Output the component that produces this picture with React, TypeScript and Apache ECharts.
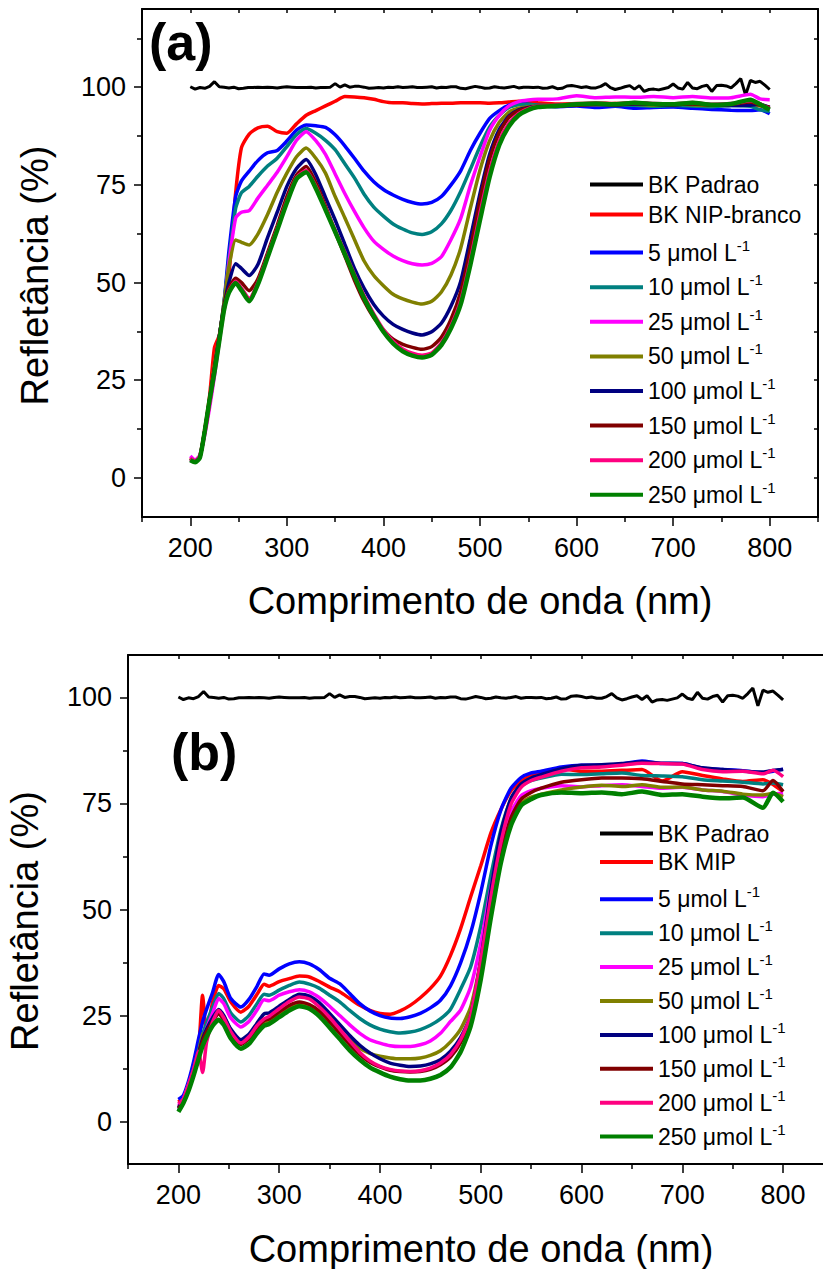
import React, { useEffect, useRef } from "react";
import * as echarts from "echarts";

const FONT = "Liberation Sans, Arial, Helvetica, sans-serif";

// Series colours (Origin palette)
const COLORS = ["#000000", "#FF0000", "#0000FF", "#008080", "#FF00FF", "#808000", "#000080", "#800000", "#FF0080", "#008000"];

// Legend / series names
const NAMES_A = ["BK Padrao", "BK NIP-branco", "5 μmol L-1", "10 μmol L-1", "25 μmol L-1", "50 μmol L-1", "100 μmol L-1", "150 μmol L-1", "200 μmol L-1", "250 μmol L-1"];
const NAMES_B = ["BK Padrao", "BK MIP", "5 μmol L-1", "10 μmol L-1", "25 μmol L-1", "50 μmol L-1", "100 μmol L-1", "150 μmol L-1", "200 μmol L-1", "250 μmol L-1"];

// Axis ticks
const X_LABELS = [200, 300, 400, 500, 600, 700, 800];
const X_MINOR = [150, 250, 350, 450, 550, 650, 750, 850];
const X_ALL = [150, 200, 250, 300, 350, 400, 450, 500, 550, 600, 650, 700, 750, 800, 850];
const Y_LABELS = [0, 25, 50, 75, 100];
const Y_MINOR_A = [12.5, 37.5, 62.5, 87.5, 112.5];
const Y_MINOR_B = [12.5, 37.5, 62.5, 87.5];
const Y_ALL_A = [0, 12.5, 25, 37.5, 50, 62.5, 75, 87.5, 100, 112.5];
const Y_ALL_B = [0, 12.5, 25, 37.5, 50, 62.5, 75, 87.5, 100];

// Reference white standard (same measurement in both panels), 5 nm steps
const WL_PADRAO = [
  200, 205, 210, 215, 220, 225, 230, 235, 240, 245,
  250, 255, 260, 265, 270, 275, 280, 285, 290, 295,
  300, 305, 310, 315, 320, 325, 330, 335, 340, 345,
  350, 355, 360, 365, 370, 375, 380, 385, 390, 395,
  400, 405, 410, 415, 420, 425, 430, 435, 440, 445,
  450, 455, 460, 465, 470, 475, 480, 485, 490, 495,
  500, 505, 510, 515, 520, 525, 530, 535, 540, 545,
  550, 555, 560, 565, 570, 575, 580, 585, 590, 595,
  600, 605, 610, 615, 620, 625, 630, 635, 640, 645,
  650, 655, 660, 665, 670, 675, 680, 685, 690, 695,
  700, 705, 710, 715, 720, 725, 730, 735, 740, 745,
  750, 755, 760, 765, 770, 775, 780, 785, 790, 795,
  800,
];
const PADRAO = [
  100.1, 99.5, 99.9, 99.7, 100.2, 101.4, 100.1, 100.0, 99.8, 100.0,
  99.6, 99.7, 99.9, 99.9, 100.0, 99.9, 100.0, 99.9, 99.8, 100.0,
  100.1, 100.0, 99.9, 99.9, 99.9, 100.0, 99.8, 99.9, 99.9, 100.0,
  100.9, 100.0, 100.6, 100.0, 100.2, 100.2, 100.0, 99.7, 99.8, 99.9,
  99.8, 100.0, 99.9, 100.1, 99.9, 100.0, 100.1, 99.9, 99.9, 100.0,
  100.1, 99.8, 100.0, 99.9, 100.1, 100.1, 99.7, 99.6, 99.9, 100.2,
  100.0, 99.7, 99.8, 100.1, 99.9, 99.8, 100.0, 100.2, 99.8, 100.0,
  100.0, 99.9, 100.0, 99.7, 99.8, 100.1, 99.6, 99.7, 100.3, 100.4,
  100.2, 99.9, 100.1, 99.8, 99.8, 100.2, 100.9, 99.9, 99.4, 99.7,
  100.1, 100.4, 99.5, 100.4, 98.9, 99.4, 99.5, 99.3, 99.6, 99.9,
  100.8, 99.8, 99.5, 101.2, 99.8, 99.6, 100.2, 100.5, 98.9, 100.4,
  100.5, 100.3, 99.8, 100.9, 102.2, 98.0, 101.7, 101.2, 101.5, 100.5,
  99.4,
];

// ---- Panel (a): NIP ----
const WL_A = [
  200, 205, 210, 215, 220, 225, 230, 235, 240,
  247, 253, 261,
  270, 280, 290, 300, 310, 320, 330, 340, 350, 360, 370, 380, 390, 400, 410, 420, 430, 440,
  450, 460, 470, 480, 490, 500, 510, 520, 530, 540, 550, 560,
  580, 600, 620, 640, 660, 680, 700, 720, 740, 760, 780,
  790, 800,
];
const NIP_BRANCO = [
  5.2, 4.4, 5.8, 12.5, 21, 33.3, 36.5, 44, 52,
  73, 84.5, 88.0,
  89.6, 90.0, 88.6, 88.2, 90.6, 92.8, 94.0, 95.2, 96.4, 97.6, 97.5, 97.3, 96.9, 96.3, 96.0, 96.0, 95.8, 95.7,
  95.8, 95.9, 95.9, 96.0, 96.0, 96.0, 95.9, 96.0, 96.2, 96.4, 96.2, 96.0,
  95.7, 95.8, 95.9, 95.8, 96.0, 95.7, 95.4, 95.6, 95.2, 95.4, 95.8,
  95.3, 94.8,
];
const A_5 = [
  5.0, 4.3, 5.6, 12, 20, 28, 36, 45, 58,
  72, 76, 78.5,
  81.2, 83.2, 83.8, 86.2, 89.0, 90.3, 90.1, 89.7, 87.8, 85.0, 81.8, 78.5, 75.8, 73.8, 72.4, 71.3, 70.5, 70.1,
  70.5, 72.0, 75.0, 78.6, 83.8, 88.2, 92.0, 94.0, 95.4, 95.8, 95.6, 95.3,
  95.0, 95.2, 94.8, 95.1, 94.6, 94.8, 94.9, 94.6, 94.3, 94.1, 94.0,
  94.2, 93.2,
];
const A_10 = [
  5.0, 4.3, 5.6, 12, 20, 28, 36, 45, 56,
  69, 73, 74.6,
  77.2, 79.8, 81.8, 84.8, 87.8, 89.4, 88.2, 86.4, 84.0, 80.4, 76.8, 72.6, 69.3, 67.0, 65.0, 63.7, 62.7, 62.3,
  63.0, 65.0, 68.5, 73.3, 79.0, 84.8, 89.8, 92.8, 94.8, 95.5, 95.6, 95.4,
  95.3, 95.4, 95.6, 95.3, 95.4, 95.1, 95.3, 95.2, 95.0, 95.3, 95.1,
  94.2, 93.8,
];
const A_25 = [
  5.6, 4.6, 5.8, 11, 18, 26, 35, 44, 55,
  66.5, 68.0, 68.4,
  71.6, 74.9, 78.2, 82.2, 86.4, 88.6, 86.3, 82.8, 77.8, 72.8, 68.2, 64.0, 60.6, 58.5, 56.8, 55.6, 54.8, 54.5,
  54.9, 56.6, 61.0, 66.4, 74.8, 82.2, 89.0, 92.8, 95.2, 96.3, 96.7, 96.9,
  97.0, 97.8, 97.3, 97.5, 97.4, 97.6, 97.3, 97.6, 97.2, 97.3, 98.2,
  97.0, 96.8,
];
const A_50 = [
  5.0, 4.3, 5.6, 12, 20, 29, 36, 45, 54,
  60.9, 60.3, 59.6,
  62.4, 67.4, 73.1, 78.0, 82.2, 84.4, 81.8, 78.0, 72.0, 66.6, 61.0, 55.5, 51.8, 49.2, 47.0, 45.8, 45.0, 44.5,
  45.2, 47.6, 52.0, 58.8, 69.0, 78.8, 86.3, 91.0, 93.6, 94.6, 95.0, 95.2,
  95.3, 95.6, 95.5, 95.8, 95.6, 95.4, 95.7, 95.5, 95.3, 95.6, 95.8,
  95.2, 94.6,
];
const A_100 = [
  4.6, 4.1, 5.4, 12, 20, 28, 36, 44, 50,
  54.8, 53.6, 51.8,
  54.6, 61.5, 68.0, 74.6, 79.2, 81.5, 77.6, 71.8, 66.0, 59.8, 53.6, 48.5, 44.4, 41.4, 39.3, 38.0, 37.1, 36.6,
  37.4, 39.6, 44.0, 50.3, 61.3, 72.8, 82.8, 89.2, 92.6, 94.2, 94.8, 95.1,
  95.3, 95.5, 95.7, 95.4, 95.7, 95.6, 95.4, 95.8, 95.5, 95.3, 95.4,
  95.6, 94.8,
];
const A_150 = [
  4.7, 4.1, 5.3, 12, 20, 28, 36, 44, 48.5,
  51.1, 50.0, 47.9,
  50.9, 57.6, 64.6, 72.0, 77.5, 79.7, 75.6, 69.6, 63.0, 56.8, 50.6, 45.2, 41.0, 37.9, 35.5, 34.2, 33.4, 32.9,
  33.6, 36.0, 40.6, 47.6, 58.6, 71.1, 81.6, 88.4, 92.3, 94.0, 94.7, 95.0,
  95.2, 95.4, 95.6, 95.5, 95.8, 95.6, 95.5, 95.7, 95.4, 95.6, 96.2,
  95.4, 94.8,
];
const A_200 = [
  5.0, 4.4, 5.5, 11.5, 19, 27, 35, 43, 47.8,
  50.3, 48.6, 45.9,
  50.0, 56.9, 63.9, 70.9, 76.9, 78.7, 74.6, 69.0, 63.4, 57.8, 52.1, 46.6, 42.0, 38.0, 35.0, 33.0, 31.9, 31.4,
  32.0, 34.6, 39.0, 45.4, 55.8, 67.8, 78.6, 86.3, 90.8, 93.3, 94.5, 95.1,
  95.3, 95.7, 95.9, 95.7, 96.1, 95.8, 95.7, 96.1, 95.6, 95.8, 96.5,
  95.7, 94.5,
];
const A_250 = [
  4.5, 4.0, 5.2, 12, 20, 27, 35, 43, 47.4,
  49.9, 48.0, 45.2,
  49.5, 56.4, 63.4, 70.4, 76.5, 78.2, 74.1, 68.6, 63.0, 57.3, 51.6, 46.0, 41.4, 37.4, 34.4, 32.4, 31.3, 30.8,
  31.5, 34.0, 38.3, 44.4, 54.5, 66.0, 77.0, 85.2, 90.0, 92.8, 94.2, 94.9,
  95.2, 95.6, 95.8, 95.6, 96.0, 95.7, 95.6, 96.0, 95.5, 95.7, 96.8,
  95.6, 94.2,
];

// ---- Panel (b): MIP ----
const WL_B = [
  200, 205, 210, 215, 220, 224, 228, 234, 240, 245, 252, 262, 270, 278, 285,
  290, 300, 310, 320, 330, 340, 350, 360, 370, 380, 390, 400, 410, 420, 430, 440,
  450, 460, 470, 480, 490, 500, 510, 520, 530, 540, 550, 560,
  580, 600, 620, 640, 660, 680, 700, 720, 740, 760, 780,
  790, 800,
];
const MIP = [
  4.6, 5.8, 8.8, 12.5, 17.0, 29.8, 20.5, 28.2, 32.1, 31.3, 28.2, 25.8, 27.2, 30.0, 32.4,
  31.9, 33.0, 33.7, 34.3, 34.1, 33.0, 31.7, 30.6, 29.0, 27.4, 26.2, 25.5, 25.3, 26.1, 27.4, 29.2,
  31.4, 34.3, 39.2, 45.5, 53.0, 60.3, 68.0, 73.6, 78.0, 80.2, 81.6, 82.2,
  83.2, 82.6, 82.6, 82.8, 83.0, 80.3, 82.5, 81.6, 80.8, 80.2, 80.6,
  79.5, 77.8,
];
const B_5 = [
  5.2, 6.2, 9.5, 14, 19.5, 23.5, 26.5, 30.5, 34.7, 33.0, 29.0, 27.0, 28.8, 31.9, 34.8,
  34.5, 36.0, 37.2, 37.7, 37.2, 35.8, 33.8, 32.5, 30.2, 27.8, 26.1, 25.0, 24.4, 24.3, 24.7, 25.5,
  26.8, 28.6, 32.0, 37.4, 44.5, 54.0, 65.0, 73.5, 78.6, 81.1, 82.2, 82.6,
  83.6, 84.0, 84.0, 84.3, 85.0, 84.4, 84.4, 83.3, 83.0, 82.7, 82.2,
  82.6, 83.1,
];
const B_10 = [
  2.6, 5.0, 8.6, 12.3, 16.8, 20.5, 23.3, 27.0, 30.2, 29.0, 25.6, 23.5, 25.0, 27.8, 30.0,
  29.8, 31.0, 32.1, 32.9, 32.4, 31.4, 29.8, 28.2, 26.2, 24.3, 22.8, 21.8, 21.2, 20.9, 21.1, 21.7,
  22.7, 24.2, 26.5, 31.2, 36.5, 46.0, 58.0, 68.8, 76.0, 79.1, 80.4, 81.0,
  81.9, 81.8, 82.0, 82.2, 81.6, 81.5, 81.3, 80.6, 80.3, 80.0, 79.6,
  79.8, 79.4,
];
const B_25 = [
  3.8, 5.4, 8.6, 12.0, 16.2, 19.5, 22.0, 25.6, 29.0, 27.8, 24.4, 22.3, 23.6, 26.3, 28.7,
  28.5, 29.8, 30.6, 31.1, 30.6, 29.2, 27.2, 25.0, 22.8, 20.8, 19.3, 18.5, 17.9, 17.7, 17.7, 18.1,
  19.0, 20.8, 23.6, 26.3, 31.8, 42.0, 55.0, 66.0, 73.0, 76.8, 78.0, 78.6,
  79.2, 78.9, 79.2, 79.4, 79.0, 78.6, 78.8, 78.2, 77.8, 77.0, 76.6,
  77.2, 77.4,
];
const B_50 = [
  3.4, 4.8, 8.0, 11.5, 16.0, 20.5, 21.0, 23.8, 25.8, 24.8, 21.6, 18.4, 19.6, 22.0, 23.2,
  23.4, 25.0, 26.6, 27.8, 27.4, 26.0, 24.0, 21.6, 19.2, 17.3, 16.1, 15.4, 15.0, 14.8, 14.8, 15.0,
  15.6, 16.7, 18.8, 21.8, 27.0, 37.8, 51.0, 62.8, 71.0, 75.0, 76.5, 77.2,
  78.2, 78.9, 79.3, 79.0, 79.4, 78.8, 78.9, 78.2, 77.9, 77.2, 77.0,
  77.4, 76.6,
];
const B_100 = [
  3.3, 5.0, 8.2, 11.8, 16.0, 19.5, 21.8, 24.5, 26.4, 25.0, 21.8, 19.3, 20.6, 23.2, 25.4,
  25.6, 27.2, 28.8, 30.0, 29.6, 28.0, 25.5, 22.9, 20.3, 18.0, 16.2, 14.8, 13.8, 13.3, 13.0, 13.1,
  13.6, 14.6, 16.6, 19.8, 25.0, 38.0, 54.5, 68.2, 76.2, 79.6, 81.0, 81.8,
  83.2, 84.0, 84.1, 84.4, 84.8, 84.5, 84.4, 83.4, 83.0, 82.6, 82.4,
  82.8, 83.0,
];
const B_150 = [
  3.0, 4.8, 8.0, 11.5, 15.8, 19.0, 21.2, 23.6, 25.4, 24.0, 20.6, 18.2, 19.5, 22.0, 23.8,
  24.2, 25.8, 27.4, 28.2, 27.6, 26.0, 23.5, 20.8, 18.1, 15.8, 14.0, 12.9, 12.1, 11.8, 11.7, 11.8,
  12.3, 13.4, 15.2, 18.6, 24.3, 35.5, 49.6, 62.8, 71.6, 76.0, 77.6, 78.6,
  80.0, 80.6, 81.0, 81.0, 80.8, 80.2, 79.6, 79.4, 79.2, 79.0, 78.0,
  80.4, 77.8,
];
const B_200 = [
  4.2, 5.4, 8.8, 12.3, 16.5, 11.6, 18.8, 23.5, 26.2, 24.5, 21.2, 18.5, 20.0, 22.6, 24.2,
  24.8, 26.6, 28.3, 29.4, 28.9, 27.0, 24.6, 21.8, 19.0, 16.3, 14.3, 13.0, 12.3, 11.9, 11.8, 12.0,
  12.6, 13.8, 15.8, 19.3, 25.0, 38.0, 52.8, 65.8, 74.8, 78.8, 80.4, 81.2,
  82.6, 83.4, 83.6, 84.0, 84.5, 84.4, 84.3, 83.0, 82.5, 82.6, 82.0,
  82.8, 81.3,
];
const B_250 = [
  2.3, 4.4, 7.2, 10.8, 14.8, 17.8, 20.0, 22.6, 24.0, 22.8, 19.6, 17.2, 18.3, 20.8, 22.6,
  23.0, 24.6, 26.2, 27.2, 26.6, 24.8, 22.2, 19.5, 16.8, 14.6, 12.8, 11.6, 10.6, 10.0, 9.7, 9.7,
  10.1, 11.0, 12.8, 16.4, 22.5, 33.5, 48.0, 61.0, 69.8, 74.5, 76.0, 77.0,
  77.6, 77.4, 77.6, 77.2, 77.8, 77.0, 77.2, 76.6, 76.2, 76.4, 74.0,
  77.5, 75.4,
];

const SERIES_A = [PADRAO, NIP_BRANCO, A_5, A_10, A_25, A_50, A_100, A_150, A_200, A_250];
const SERIES_B = [PADRAO, MIP, B_5, B_10, B_25, B_50, B_100, B_150, B_200, B_250];

type Panel = {
  grid: { left: number; top: number; width: number; height: number };
  yMin: number;
  yMax: number;
  yMinor: number[];
  yAll: number[];
};

const PANELS: Panel[] = [
  { grid: { left: 142, top: 9, width: 676, height: 508 }, yMin: -10, yMax: 120, yMinor: Y_MINOR_A, yAll: Y_ALL_A },
  { grid: { left: 128, top: 655, width: 705.5, height: 509 }, yMin: -10, yMax: 110, yMinor: Y_MINOR_B, yAll: Y_ALL_B },
];

const AXIS_LINE = { show: true, onZero: false, lineStyle: { color: "#000", width: 2 } };
const TICK_LINE = { color: "#000", width: 1.5 };
const TICK_LABEL = { color: "#000", fontSize: 27, fontFamily: FONT };

function buildAxes() {
  const xAxis: any[] = [];
  const yAxis: any[] = [];
  PANELS.forEach((p, g) => {
    const xBase = { gridIndex: g, type: "value", min: 150, max: 850, splitLine: { show: false } };
    xAxis.push({
      ...xBase,
      position: "bottom",
      axisLine: AXIS_LINE,
      axisTick: { show: true, inside: false, length: 9, lineStyle: TICK_LINE, customValues: X_LABELS },
      axisLabel: { show: true, margin: 17, customValues: X_LABELS, ...TICK_LABEL },
    });
    xAxis.push({
      ...xBase,
      position: "bottom",
      axisLine: { show: false, onZero: false },
      axisTick: { show: true, inside: false, length: 5, lineStyle: TICK_LINE, customValues: X_MINOR },
      axisLabel: { show: false },
    });
    xAxis.push({
      ...xBase,
      position: "top",
      axisLine: AXIS_LINE,
      axisTick: { show: true, inside: true, length: 4, lineStyle: TICK_LINE, customValues: X_ALL },
      axisLabel: { show: false },
    });

    const yBase = { gridIndex: g, type: "value", min: p.yMin, max: p.yMax, splitLine: { show: false } };
    yAxis.push({
      ...yBase,
      position: "left",
      axisLine: AXIS_LINE,
      axisTick: { show: true, inside: false, length: 8, lineStyle: TICK_LINE, customValues: Y_LABELS },
      axisLabel: { show: true, margin: 16, customValues: Y_LABELS, ...TICK_LABEL },
    });
    yAxis.push({
      ...yBase,
      position: "left",
      axisLine: { show: false, onZero: false },
      axisTick: { show: true, inside: false, length: 5, lineStyle: TICK_LINE, customValues: p.yMinor },
      axisLabel: { show: false },
    });
    yAxis.push({
      ...yBase,
      position: "right",
      axisLine: AXIS_LINE,
      axisTick: { show: true, inside: true, length: 4, lineStyle: TICK_LINE, customValues: p.yAll },
      axisLabel: { show: false },
    });
  });
  return { xAxis, yAxis };
}

function buildSeries() {
  const out: any[] = [];
  const add = (panel: number, names: string[], values: number[][], wl: number[]) => {
    values.forEach((vals, i) => {
      const isPadrao = i === 0;
      const xs = isPadrao ? WL_PADRAO : wl;
      out.push({
        type: "line",
        name: names[i],
        xAxisIndex: panel * 3,
        yAxisIndex: panel * 3,
        data: xs.map((w, k) => [w, vals[k]]),
        symbol: "none",
        showSymbol: false,
        smooth: isPadrao ? false : 0.2,
        color: COLORS[i],
        itemStyle: { color: COLORS[i] },
        lineStyle: { color: COLORS[i], width: isPadrao ? 3 : i === 9 ? 4.5 : 3.5 },
        emphasis: { disabled: true },
        z: 2 + i,
      });
    });
  };
  add(0, NAMES_A, SERIES_A, WL_A);
  add(1, NAMES_B, SERIES_B, WL_B);
  return out;
}

const legendText = {
  color: "#000",
  fontSize: 23,
  fontFamily: FONT,
  rich: {
    t: { fontSize: 23, lineHeight: 30, fontFamily: FONT, color: "#000" },
    s: { fontSize: 15, lineHeight: 15, verticalAlign: "top", fontFamily: FONT, color: "#000" },
  },
};

const legendFormatter = (name: string) =>
  name.endsWith("-1") ? `{t|${name.slice(0, -2)}}{s|-1}` : `{t|${name}}`;

function buildLegends() {
  const rows = (names: string[], left: number, first: number, second: number, step: number) =>
    names.map((n, i) => ({
      show: true,
      orient: "vertical",
      left,
      top: (i === 0 ? first : second + (i - 1) * step) - 15,
      padding: 0,
      itemWidth: 53,
      itemHeight: 4,
      icon: "rect",
      selectedMode: false,
      data: [n],
      formatter: legendFormatter,
      textStyle: legendText,
    }));
  return [...rows(NAMES_A, 590, 188, 218, 34.6), ...rows(NAMES_B, 600, 837, 865.4, 33.9)];
}

function titleText(text: string, x: number, y: number, rotate = false) {
  return {
    type: "text",
    x,
    y,
    rotation: rotate ? Math.PI / 2 : 0,
    style: {
      text,
      fill: "#000",
      fontSize: 38,
      fontFamily: FONT,
      textAlign: "center",
      textVerticalAlign: "middle",
    },
    z: 10,
  };
}

function panelTag(text: string, x: number, y: number) {
  return {
    type: "text",
    x,
    y,
    style: {
      text,
      fill: "#000",
      fontSize: 52,
      fontWeight: "bold",
      fontFamily: FONT,
      textAlign: "left",
      textVerticalAlign: "middle",
    },
    z: 10,
  };
}

function buildOption() {
  const { xAxis, yAxis } = buildAxes();
  return {
    animation: false,
    backgroundColor: "#ffffff",
    textStyle: { fontFamily: FONT },
    grid: PANELS.map((p) => ({ ...p.grid, containLabel: false, outerBoundsMode: "none" })),
    xAxis,
    yAxis,
    legend: buildLegends(),
    series: buildSeries(),
    graphic: [
      titleText("Comprimento de onda (nm)", 480, 601),
      titleText("Refletância (%)", 35, 275.5, true),
      titleText("Comprimento de onda (nm)", 481, 1248.5),
      titleText("Refletância (%)", 24.5, 921, true),
      panelTag("(a)", 149, 42.3),
      panelTag("(b)", 171, 751.5),
    ],
  };
}

export default function App() {
  const ref = useRef<HTMLDivElement>(null);
  useEffect(() => {
    document.body.style.margin = "0";
    const chart = echarts.init(ref.current as HTMLDivElement, null, { renderer: "svg" });
    chart.setOption(buildOption() as any);
    return () => {
      chart.dispose();
    };
  }, []);
  return <div ref={ref} style={{ width: 823, height: 1269, background: "#fff" }} />;
}
